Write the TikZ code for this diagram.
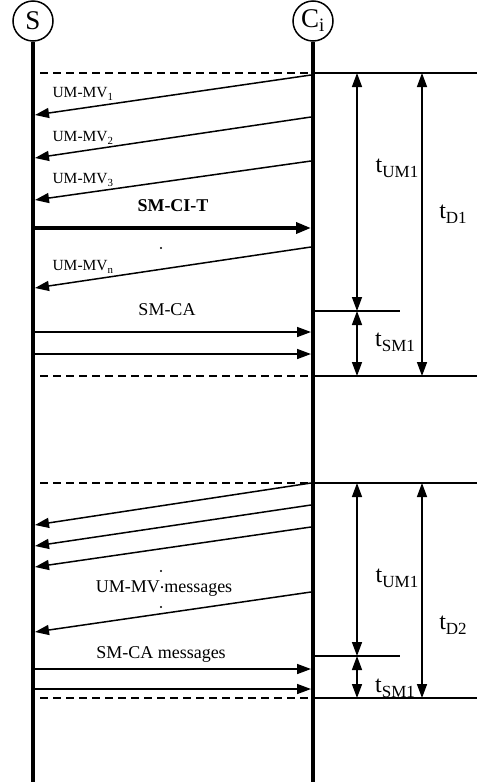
\documentclass[tikz,border=0pt]{standalone}
\usepackage{fontspec}
\setmainfont{Liberation Serif}
\usetikzlibrary{arrows.meta}

\tikzset{
  lifeline/.style={line width=3.5pt},
  msg/.style={line width=1.5pt,-{Triangle[length=14pt,width=10pt]}},
  boldmsg/.style={line width=3.5pt,-{Triangle[length=15pt,width=11pt]}},
  period/.style={line width=1.5pt,{Triangle[length=14pt,width=10pt]}-{Triangle[length=14pt,width=10pt]}},
  boundary/.style={line width=1.5pt},
  gapline/.style={line width=1.5pt,dash pattern=on 8pt off 5pt},
  msglabel/.style={font=\fontsize{15.5}{16}\selectfont},
  biglabel/.style={font=\fontsize{18}{18}\selectfont},
  dotmark/.style={circle,fill,inner sep=0pt,minimum size=2.2pt},
  party/.style={circle,draw,line width=1.5pt,minimum size=40pt,inner sep=0pt,font=\fontsize{27}{27}\selectfont}
}
\newcommand{\tlab}[1]{{\fontsize{24}{24}\selectfont t\raisebox{-5pt}{\fontsize{17}{17}\selectfont #1}}}

\begin{document}
\begin{tikzpicture}[x=1pt,y=-1pt]
\useasboundingbox (0,0) rectangle (477,782);

\node[party] (S) at (33,21) {S};
\node[party] (C) at (313,21) {C\textsubscript{i}};
\coordinate (bottom) at (0,782);
\draw[lifeline] (S.south) -- (S.south |- bottom);
\draw[lifeline] (C.south) -- (C.south |- bottom);

% first period
\draw[gapline] (40,73) -- (313,73);
\draw[boundary] (313,73) -- (477,73);
\draw[msg] (311,75) -- (35,115);
\node[msglabel,anchor=west] (um1) at (49,94) {UM-MV\textsubscript{1}};
\draw[msg] (311,117) -- (35,158);
\node[msglabel,anchor=west] (um2) at (49,138) {UM-MV\textsubscript{2}};
\draw[msg] (311,161) -- (35,200);
\node[msglabel,anchor=west] (um3) at (49,180) {UM-MV\textsubscript{3}};
\node[font=\fontsize{18}{18}\selectfont\bfseries] (cit) at (173,206) {SM-CI-T};
\draw[boldmsg] (35,228) -- (311,228);
\node[dotmark] (dot1) at (161,248) {};
\draw[msg] (311,247) -- (35,288);
\node[msglabel,anchor=west] (umn) at (49,267) {UM-MV\textsubscript{n}};
\node[biglabel] (ca) at (167,310) {SM-CA};
\draw[msg] (35,332) -- (311,332);
\draw[msg] (35,354) -- (311,354);
\draw[gapline] (40,376) -- (313,376);
\draw[boundary] (313,376) -- (477,376);
\draw[boundary] (313,311) -- (400,311);

\draw[period] (357,73) -- (357,311);
\draw[period] (357,311) -- (357,376);
\draw[period] (422,73) -- (422,376);
\node (tum1) at (397,168) {\tlab{UM1}};
\node (tsm1) at (395,342) {\tlab{SM1}};
\node (td1) at (453,214) {\tlab{D1}};

% second period
\draw[gapline] (40,483) -- (313,483);
\draw[boundary] (313,483) -- (477,483);
\draw[msg] (311,483) -- (35,525);
\draw[msg] (311,505) -- (35,546);
\draw[msg] (311,527) -- (35,567);
\node[dotmark] (dot2) at (161,571) {};
\node[biglabel] (umall) at (164,589) {UM-MV\raisebox{4pt}{.}messages};
\node[dotmark] (dot3) at (161,607) {};
\draw[msg] (311,592) -- (35,632);
\node[biglabel] (caall) at (161,654) {SM-CA messages};
\draw[msg] (35,669) -- (311,669);
\draw[msg] (35,689) -- (311,689);
\draw[gapline] (40,698) -- (313,698);
\draw[boundary] (313,698) -- (477,698);
\draw[boundary] (313,656) -- (400,656);

\draw[period] (357,483) -- (357,656);
\draw[period] (357,656) -- (357,698);
\draw[period] (422,483) -- (422,698);
\node (tum2) at (397,578) {\tlab{UM1}};
\node (tsm2) at (395,688) {\tlab{SM1}};
\node (td2) at (453,625) {\tlab{D2}};
\end{tikzpicture}
\end{document}
